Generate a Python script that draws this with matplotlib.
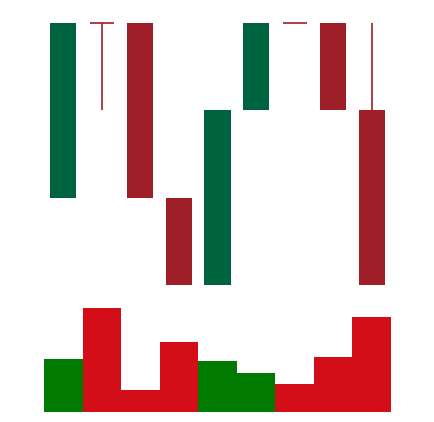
import matplotlib
matplotlib.use("Agg")
import matplotlib.pyplot as plt

# Data
opens  = [2, 4, 4, 2, 1, 3, 4, 4, 3]
highs  = [4, 4, 4, 2, 3, 4, 4, 4, 4]
lows   = [2, 3, 2, 1, 1, 3, 4, 3, 1]
closes = [4, 4, 2, 1, 3, 4, 4, 3, 1]
volumes = [53, 104, 22, 70, 51, 39, 28, 55, 95]

UP_C = "#006340"
DOWN_C = "#9e1f28"
VUP_C = "#007a00"
VDOWN_C = "#d30e18"

W, H = 434, 422
fig = plt.figure(figsize=(W / 100, H / 100), dpi=100)
fig.patch.set_facecolor("white")

# price axes: y=23 px (price 4) to y=285 px (price 1)
axp = fig.add_axes([44 / W, (H - 285) / H, 347 / W, 262 / H])
axv = fig.add_axes([44 / W, (H - 412) / H, 347 / W, 110 / H])

n = len(opens)
bw = 0.675
for i in range(n):
    o, h, l, c = opens[i], highs[i], lows[i], closes[i]
    up = c > o
    col = UP_C if up else DOWN_C
    if h > l:
        axp.vlines(i, l, h, color=col, linewidth=1.2, clip_on=False, zorder=1)
    if c != o:
        axp.bar(i, abs(c - o), bottom=min(o, c), width=bw, color=col,
                linewidth=0, clip_on=False, zorder=2)
    else:
        axp.hlines(o, i - 0.31, i + 0.31, color=col, linewidth=1.2,
                   clip_on=False, zorder=2)

axp.set_xlim(-0.5, n - 0.5)
axp.set_ylim(1, 4)
axp.axis("off")

vcols = [VUP_C if closes[i] > opens[i] else VDOWN_C for i in range(n)]
axv.bar(range(n), volumes, width=1.0, color=vcols, linewidth=0)
axv.set_xlim(-0.5, n - 0.5)
axv.set_ylim(0, 110)
axv.axis("off")

fig.savefig("out.png", dpi=100, facecolor="white")
